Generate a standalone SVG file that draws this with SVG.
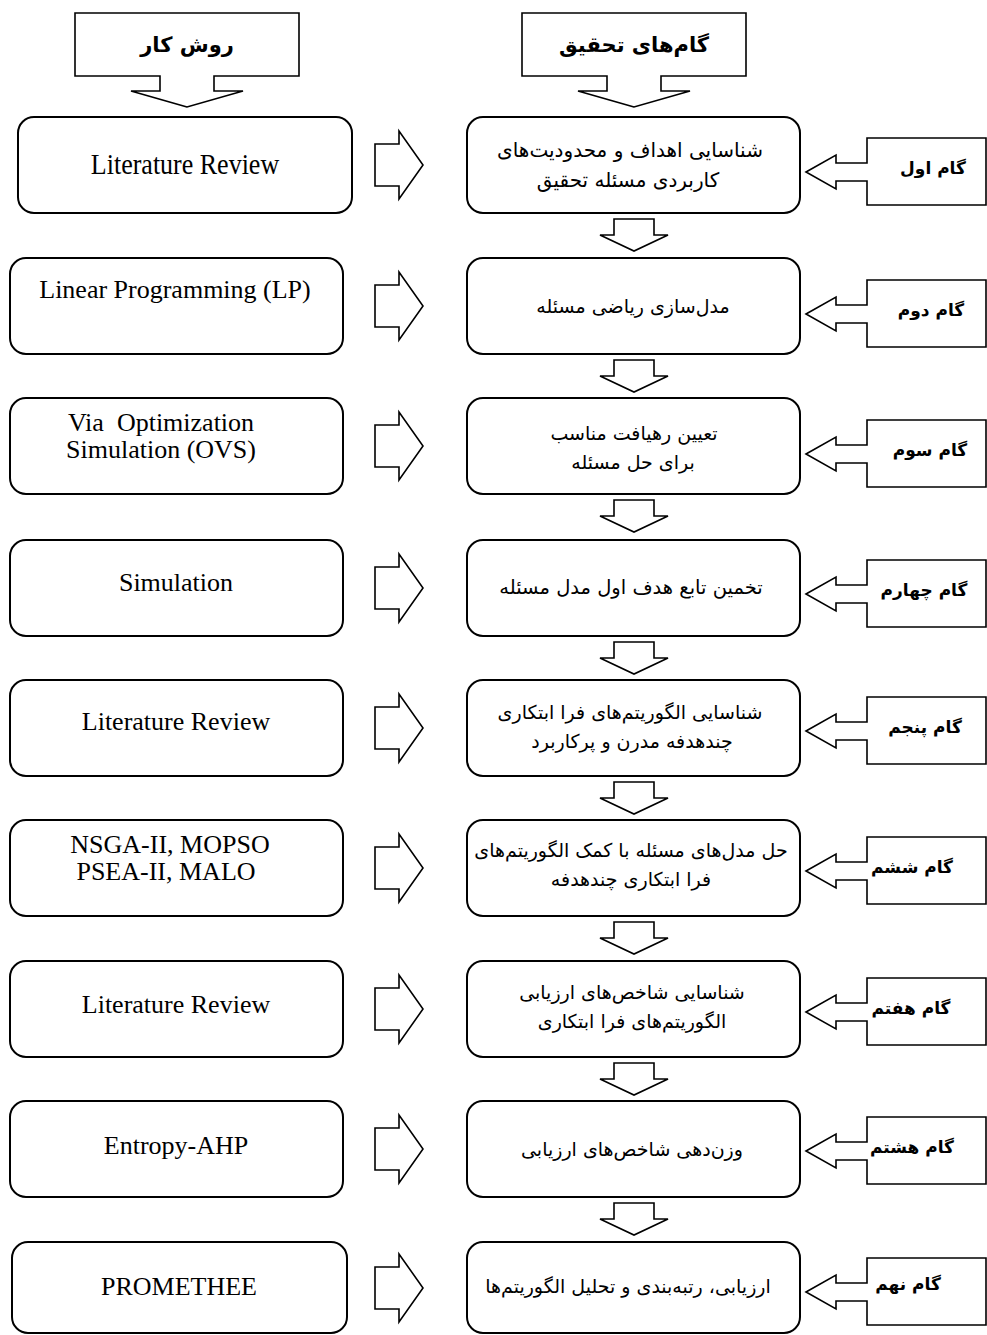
<svg xmlns="http://www.w3.org/2000/svg" xmlns:xlink="http://www.w3.org/1999/xlink" width="987" height="1335" viewBox="0 0 987 1335">
<style>
.box{fill:#fff;stroke:#000;stroke-width:2}
.arr{fill:#fff;stroke:#000;stroke-width:1.6;stroke-linejoin:miter}
.en{font-family:"Liberation Serif","Times New Roman",serif;font-size:26px;fill:#000;text-anchor:middle;white-space:pre}
.fa{font-family:"DejaVu Sans","Noto Sans",sans-serif;font-size:19px;fill:#000;text-anchor:middle}
.fab{font-family:"DejaVu Sans","Noto Sans",sans-serif;font-weight:bold;font-size:17px;fill:#000;text-anchor:middle}
.hd{font-family:"DejaVu Sans","Noto Sans",sans-serif;font-weight:bold;font-size:21px;fill:#000;text-anchor:middle}
</style>
<defs>
<path id="down" d="M-20,0 H20 V16 H34 L0,32 L-34,16 H-20 Z"/>
<path id="right" d="M0,-21 H24 V-34 L48,0 L24,34 V21 H0 Z"/>
<path id="call" d="M0,0 L30,-17 V-9 H61 V-34 H180 V33 H61 V9 H30 V17 Z"/>
<path id="head" d="M0,0 L-56,-16 H-27 V-31 H-112 V-94 H112 V-31 H27 V-16 H56 Z"/>
</defs>

<g id="header-method">
<use xlink:href="#head" class="arr" x="187" y="107"/>
<text class="hd" x="187" y="52">روش کار</text>
</g>
<g id="header-steps">
<use xlink:href="#head" class="arr" x="634" y="107"/>
<text class="hd" x="634" y="52">گام&#8204;های تحقیق</text>
</g>

<g id="m1"><rect class="box" x="18" y="117" width="334" height="96" rx="16"/><text class="en" transform="translate(185,174) scale(1,1.15)" x="0" y="0">Literature Review</text></g>
<g id="m2"><rect class="box" x="10" y="258" width="333" height="96" rx="16"/><text class="en" x="175" y="298">Linear Programming (LP)</text></g>
<g id="m3"><rect class="box" x="10" y="398" width="333" height="96" rx="16"/><text class="en" x="161" y="431">Via  Optimization</text><text class="en" x="161" y="458">Simulation (OVS)</text></g>
<g id="m4"><rect class="box" x="10" y="540" width="333" height="96" rx="16"/><text class="en" x="176" y="591">Simulation</text></g>
<g id="m5"><rect class="box" x="10" y="680" width="333" height="96" rx="16"/><text class="en" x="176" y="730">Literature Review</text></g>
<g id="m6"><rect class="box" x="10" y="820" width="333" height="96" rx="16"/><text class="en" x="170" y="853">NSGA-II, MOPSO</text><text class="en" x="166" y="880">PSEA-II, MALO</text></g>
<g id="m7"><rect class="box" x="10" y="961" width="333" height="96" rx="16"/><text class="en" x="176" y="1013">Literature Review</text></g>
<g id="m8"><rect class="box" x="10" y="1101" width="333" height="96" rx="16"/><text class="en" x="176" y="1154">Entropy-AHP</text></g>
<g id="m9"><rect class="box" x="12" y="1242" width="335" height="91" rx="16"/><text class="en" x="179" y="1295">PROMETHEE</text></g>

<g id="s1"><rect class="box" x="467" y="117" width="333" height="96" rx="16"/><text class="fa" style="font-size:20px" x="630" y="157">شناسایی اهداف و محدودیت&#8204;های</text><text class="fa" style="font-size:20px" x="628" y="187">کاربردی مسئله تحقیق</text></g>
<g id="s2"><rect class="box" x="467" y="258" width="333" height="96" rx="16"/><text class="fa" x="633" y="313">مدل&#8204;سازی ریاضی مسئله</text></g>
<g id="s3"><rect class="box" x="467" y="398" width="333" height="96" rx="16"/><text class="fa" x="634" y="440">تعیین رهیافت مناسب</text><text class="fa" x="633" y="469">برای حل مسئله</text></g>
<g id="s4"><rect class="box" x="467" y="540" width="333" height="96" rx="16"/><text class="fa" style="font-size:19.5px" x="631" y="594">تخمین تابع هدف اول مدل مسئله</text></g>
<g id="s5"><rect class="box" x="467" y="680" width="333" height="96" rx="16"/><text class="fa" x="630" y="719">شناسایی الگوریتم&#8204;های فرا ابتکاری</text><text class="fa" x="632" y="748">چندهدفه مدرن و پرکاربرد</text></g>
<g id="s6"><rect class="box" x="467" y="820" width="333" height="96" rx="16"/><text class="fa" x="631" y="857">حل مدل&#8204;های مسئله با کمک الگوریتم&#8204;های</text><text class="fa" x="631" y="886">فرا ابتکاری چندهدفه</text></g>
<g id="s7"><rect class="box" x="467" y="961" width="333" height="96" rx="16"/><text class="fa" x="632" y="999">شناسایی شاخص&#8204;های ارزیابی</text><text class="fa" x="632" y="1028">الگوریتم&#8204;های فرا ابتکاری</text></g>
<g id="s8"><rect class="box" x="467" y="1101" width="333" height="96" rx="16"/><text class="fa" x="632" y="1156">وزن&#8204;دهی شاخص&#8204;های ارزیابی</text></g>
<g id="s9"><rect class="box" x="467" y="1242" width="333" height="91" rx="16"/><text class="fa" x="628" y="1293">ارزیابی، رتبه&#8204;بندی و تحلیل الگوریتم&#8204;ها</text></g>

<g id="c1"><use xlink:href="#call" class="arr" x="806" y="172"/><text class="fab" x="933" y="174">گام اول</text></g>
<g id="c2"><use xlink:href="#call" class="arr" x="806" y="314"/><text class="fab" x="931" y="316">گام دوم</text></g>
<g id="c3"><use xlink:href="#call" class="arr" x="806" y="454"/><text class="fab" x="930" y="456">گام سوم</text></g>
<g id="c4"><use xlink:href="#call" class="arr" x="806" y="594"/><text class="fab" x="924" y="596">گام چهارم</text></g>
<g id="c5"><use xlink:href="#call" class="arr" x="806" y="731"/><text class="fab" x="925" y="733">گام پنجم</text></g>
<g id="c6"><use xlink:href="#call" class="arr" x="806" y="871"/><text class="fab" x="912" y="873">گام ششم</text></g>
<g id="c7"><use xlink:href="#call" class="arr" x="806" y="1012"/><text class="fab" x="911" y="1014">گام هفتم</text></g>
<g id="c8"><use xlink:href="#call" class="arr" x="806" y="1151"/><text class="fab" x="912" y="1153">گام هشتم</text></g>
<g id="c9"><use xlink:href="#call" class="arr" x="806" y="1292"/><text class="fab" x="908" y="1290">گام نهم</text></g>

<g id="connectors">
<use xlink:href="#right" class="arr" x="375" y="165"/>
<use xlink:href="#right" class="arr" x="375" y="306"/>
<use xlink:href="#right" class="arr" x="375" y="446"/>
<use xlink:href="#right" class="arr" x="375" y="588"/>
<use xlink:href="#right" class="arr" x="375" y="728"/>
<use xlink:href="#right" class="arr" x="375" y="868"/>
<use xlink:href="#right" class="arr" x="375" y="1009"/>
<use xlink:href="#right" class="arr" x="375" y="1149"/>
<use xlink:href="#right" class="arr" x="375" y="1288"/>
<use xlink:href="#down" class="arr" x="634" y="219"/>
<use xlink:href="#down" class="arr" x="634" y="360"/>
<use xlink:href="#down" class="arr" x="634" y="500"/>
<use xlink:href="#down" class="arr" x="634" y="642"/>
<use xlink:href="#down" class="arr" x="634" y="782"/>
<use xlink:href="#down" class="arr" x="634" y="922"/>
<use xlink:href="#down" class="arr" x="634" y="1063"/>
<use xlink:href="#down" class="arr" x="634" y="1203"/>
</g>
</svg>
